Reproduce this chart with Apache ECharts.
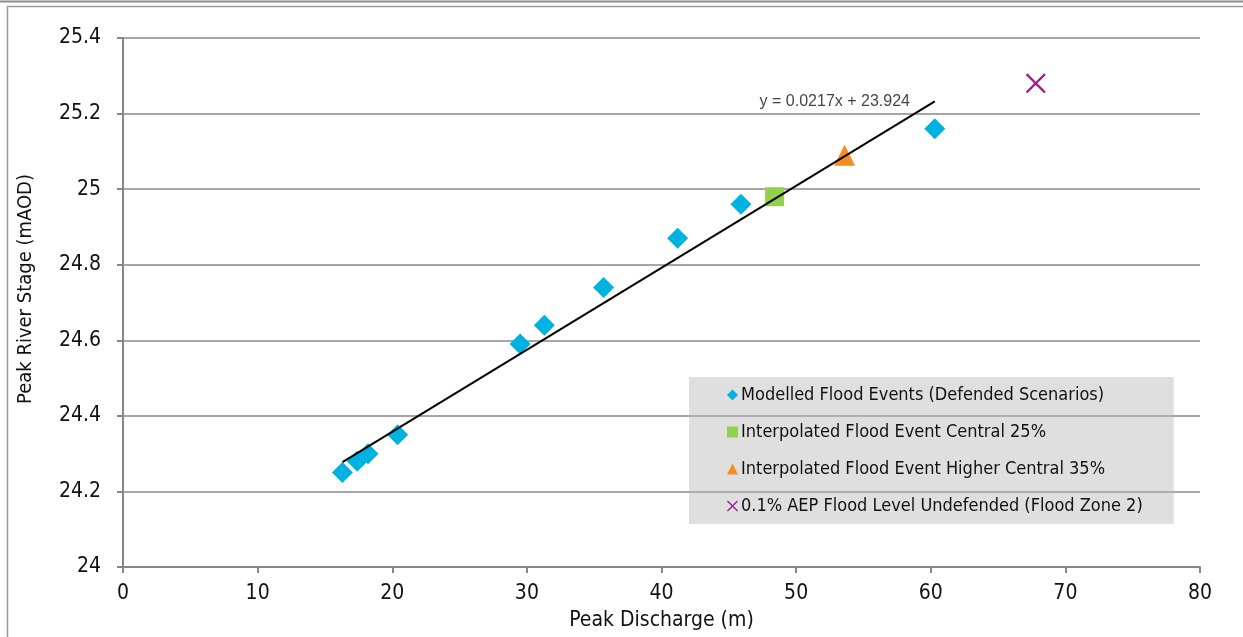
<!DOCTYPE html>
<html>
<head>
<meta charset="utf-8">
<script src="https://cdn.jsdelivr.net/npm/echarts@6/dist/echarts.min.js"></script>
<style>
html,body{margin:0;padding:0;background:#fff;}
#chart{width:1243px;height:637px;}
</style>
</head>
<body>
<div id="chart"></div>
<script>
// ---- data ----
var modelledX = [16.3, 17.4, 18.2, 20.4, 29.5, 31.3, 35.7, 41.2, 45.9, 60.3];
var modelledY = [24.25, 24.28, 24.30, 24.35, 24.59, 24.64, 24.74, 24.87, 24.96, 25.16];
var central25 = [[48.4, 24.98]];
var higher35 = [[53.6, 25.09]];
var undefended = [[67.8, 25.28]];
var trendSlope = 0.0217;
var trendIntercept = 23.924;
var trendLabel = 'y = 0.0217x + 23.924';
var seriesNames = [
  'Modelled Flood Events (Defended Scenarios)',
  'Interpolated Flood Event Central 25%',
  'Interpolated Flood Event Higher Central 35%',
  '0.1% AEP Flood Level Undefended (Flood Zone 2)'
];
var xTitle = 'Peak Discharge (m)';
var yTitle = 'Peak River Stage (mAOD)';

var modelled = modelledX.map(function (x, i) { return [x, modelledY[i]]; });
var xMin = Math.min.apply(null, modelledX), xMax = Math.max.apply(null, modelledX);
var trend = [[xMin, trendSlope * xMin + trendIntercept], [xMax, trendSlope * xMax + trendIntercept]];

var NARROW = "'Liberation Sans Narrow', 'Arial Narrow', 'DejaVu Sans Condensed', sans-serif";
var REG = "'Liberation Sans', Arial, sans-serif";
var crossPath = 'path://M0,0.08 L0.08,0 L0.5,0.42 L0.92,0 L1,0.08 L0.58,0.5 L1,0.92 L0.92,1 L0.5,0.58 L0.08,1 L0,0.92 L0.42,0.5 Z';

var chart = echarts.init(document.getElementById('chart'));
chart.setOption({
  animation: false,
  backgroundColor: '#fff',
  textStyle: { fontFamily: NARROW, color: '#111' },
  grid: { left: 123, right: 43, top: 38, bottom: 70 },
  xAxis: {
    type: 'value', min: 0, max: 80, interval: 10,
    name: xTitle, nameLocation: 'middle', nameGap: 43,
    nameTextStyle: { fontSize: 21, fontFamily: NARROW, color: '#111' },
    axisLine: { show: true, lineStyle: { color: '#878787', width: 2 } },
    axisTick: { show: true, length: 6, lineStyle: { color: '#878787', width: 2 } },
    axisLabel: { fontSize: 21, margin: 16, color: '#111', fontFamily: NARROW },
    splitLine: { show: false }
  },
  yAxis: {
    type: 'value', min: 24, max: 25.4, interval: 0.2,
    axisLine: { show: true, onZero: false, lineStyle: { color: '#878787', width: 2 } },
    axisTick: { show: true, length: 6, lineStyle: { color: '#878787', width: 2 } },
    axisLabel: { fontSize: 21, margin: 22, color: '#111', fontFamily: NARROW },
    splitLine: { show: true, lineStyle: { color: '#a6a6a6', width: 2 } }
  },
  legend: {
    orient: 'vertical',
    left: 689, top: 377,
    padding: [9, 31, 9, 38],
    itemGap: 19,
    itemWidth: 11, itemHeight: 11,
    backgroundColor: 'rgba(185,185,185,0.45)',
    textStyle: { fontSize: 18, fontFamily: NARROW, color: '#111', padding: [0, 0, 0, -2] },
    data: seriesNames
  },
  graphic: [
    { type: 'line', shape: { x1: 0, y1: 1.5, x2: 1243, y2: 1.5 }, style: { stroke: '#8c8c8c', lineWidth: 2 }, silent: true },
    { type: 'rect', shape: { x: 7.5, y: 6.5, width: 1300, height: 700 }, style: { fill: 'none', stroke: '#9a9a9a', lineWidth: 1.5 }, silent: true },
    { type: 'text', x: 26, y: 289, rotation: Math.PI / 2,
      style: { text: yTitle, fontSize: 20, fontFamily: NARROW, fill: '#111', textAlign: 'center', textVerticalAlign: 'middle' } }
  ],
  series: [
    { name: seriesNames[0], type: 'scatter', data: modelled, symbol: 'diamond', symbolSize: 21,
      itemStyle: { color: '#00b2e2', opacity: 1 }, z: 2 },
    { name: seriesNames[1], type: 'scatter', data: central25, symbol: 'rect', symbolSize: 19,
      itemStyle: { color: '#92d050', opacity: 1 }, z: 2 },
    { name: seriesNames[2], type: 'scatter', data: higher35, symbol: 'triangle', symbolSize: [21, 21],
      itemStyle: { color: '#f68b1f', opacity: 1 }, z: 2 },
    { name: seriesNames[3], type: 'scatter', data: undefended, symbol: crossPath, symbolSize: 20,
      itemStyle: { color: '#9b1b8b', opacity: 1 }, z: 2 },
    { name: 'trend', type: 'line', data: trend, showSymbol: false, symbol: 'none',
      lineStyle: { color: '#000', width: 2 }, z: 5, silent: true },
    { name: 'trendLabel', type: 'scatter', data: [trend[1]], symbolSize: 1,
      itemStyle: { color: 'rgba(0,0,0,0)' }, z: 6, silent: true,
      label: { show: true, position: 'top', distance: 0, offset: [-100, 9], formatter: trendLabel,
        fontSize: 16, fontFamily: REG, color: '#111' } }
  ]
});
</script>
</body>
</html>
